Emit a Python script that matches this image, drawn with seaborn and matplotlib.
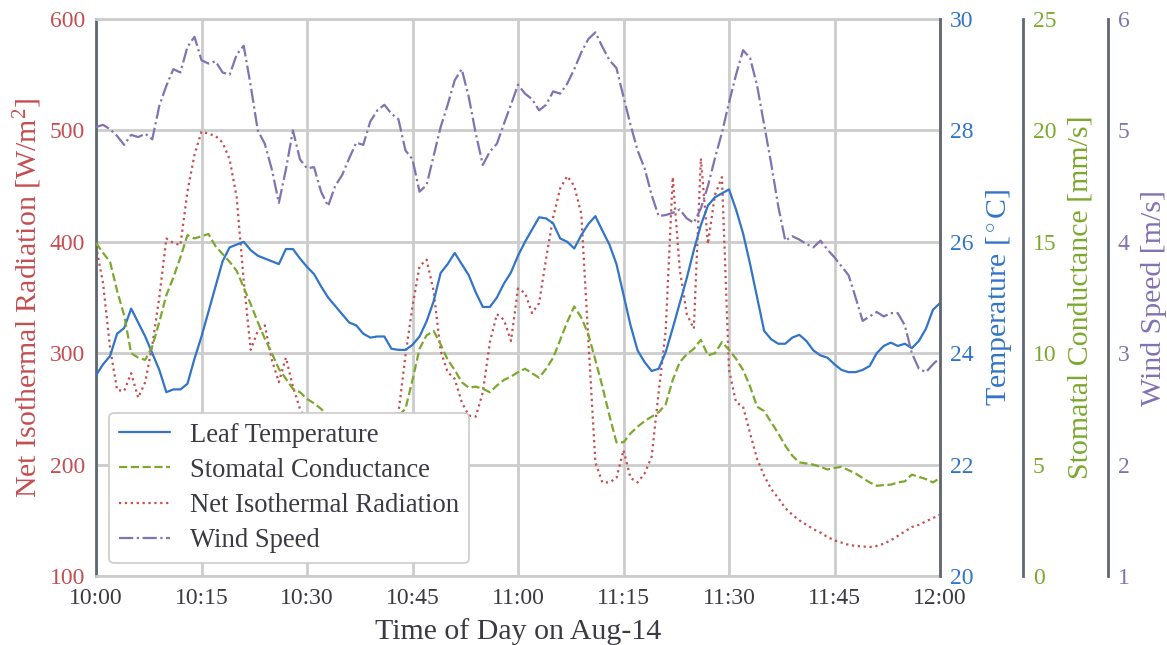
import numpy as np
import pandas as pd
import matplotlib
matplotlib.use("Agg")
import matplotlib.pyplot as plt
import matplotlib.dates as mdates
import seaborn as sns

# Minutes after 10:00 on Aug-14, one reading per minute
minutes = list(range(0, 121))

leaf_temperature = [  # degC
    23.6, 23.8, 23.95, 24.35, 24.45, 24.8, 24.55, 24.3, 24.0, 23.7,
    23.3, 23.35, 23.35, 23.45, 23.9, 24.3, 24.75, 25.2, 25.65, 25.9,
    25.95, 26.0, 25.85, 25.75, 25.7, 25.65, 25.6, 25.87, 25.87, 25.7,
    25.55, 25.42, 25.2, 25.0, 24.85, 24.7, 24.55, 24.5, 24.35, 24.28,
    24.3, 24.3, 24.08, 24.06, 24.06, 24.15, 24.3, 24.57, 24.93, 25.44,
    25.6, 25.8, 25.6, 25.4, 25.09, 24.83, 24.83, 25.0, 25.25, 25.45,
    25.75, 26.0, 26.22, 26.44, 26.42, 26.33, 26.06, 26.0, 25.88, 26.12,
    26.32, 26.46, 26.2, 25.95, 25.6, 25.05, 24.5, 24.05, 23.84, 23.68,
    23.72, 24.02, 24.45, 24.9, 25.35, 25.85, 26.3, 26.65, 26.8, 26.87,
    26.94, 26.58, 26.15, 25.6, 25.0, 24.4, 24.25, 24.17, 24.17, 24.28,
    24.33, 24.22, 24.05, 23.96, 23.92, 23.8, 23.7, 23.66, 23.66, 23.7,
    23.77, 24.0, 24.13, 24.19, 24.13, 24.17, 24.09, 24.22, 24.44, 24.78, 24.9,
]

stomatal_conductance = [  # mm/s
    14.95, 14.5, 14.1, 12.8, 11.7, 10.0, 9.8, 9.7, 10.3, 11.4,
    12.6, 13.4, 14.3, 15.3, 15.15, 15.25, 15.35, 14.8, 14.45, 14.1,
    13.7, 12.95, 12.2, 11.4, 10.65, 10.0, 9.3, 8.85, 8.4, 8.25,
    7.95, 7.75, 7.5, 7.2, 7.0, 6.8, 6.7, 6.6, 6.5, 6.5,
    6.6, 6.7, 6.9, 7.2, 7.5, 8.8, 10.2, 10.8, 11.0, 10.4,
    9.7, 9.25, 8.7, 8.45, 8.5, 8.4, 8.25, 8.55, 8.8, 8.95,
    9.15, 9.3, 9.1, 8.9, 9.3, 9.8, 10.6, 11.4, 12.1, 11.6,
    10.85, 9.7, 8.5, 7.2, 6.0, 6.0, 6.4, 6.7, 6.95, 7.15,
    7.35, 7.7, 8.8, 9.6, 9.95, 10.2, 10.6, 9.9, 10.0, 10.5,
    10.15, 9.75, 9.25, 8.5, 7.6, 7.4, 6.9, 6.4, 5.85, 5.4,
    5.1, 5.05, 5.0, 4.9, 4.78, 4.85, 4.9, 4.75, 4.6, 4.4,
    4.2, 4.05, 4.08, 4.1, 4.2, 4.25, 4.55, 4.45, 4.35, 4.2, 4.4,
]

net_radiation = [  # W/m2
    396, 363, 305, 267, 266, 282, 260, 274, 307, 350,
    403, 399, 397, 445, 478, 499, 497, 495, 489, 474,
    440, 365, 303, 320, 325, 294, 274, 296, 270, 250,
    238, 228, 220, 214, 210, 208, 207, 208, 211, 216,
    222, 228, 235, 246, 298, 342, 378, 384, 356, 302,
    283, 277, 256, 244, 243, 265, 310, 335, 330, 311,
    358, 354, 336, 345, 385, 422, 448, 459, 450, 425,
    312, 202, 184, 184, 188, 213, 188, 184, 192, 207,
    265, 320, 458, 375, 335, 322, 475, 398, 442, 458,
    285, 256, 252, 228, 205, 190, 178, 170, 161, 155,
    150, 146, 142, 139, 135, 132, 130, 128, 127, 126.5,
    126, 127, 129, 132, 136, 140, 144, 146, 149, 152, 155,
]

wind_speed = [  # m/s
    5.03, 5.05, 5.01, 4.95, 4.87, 4.96, 4.94, 4.97, 4.92, 5.22,
    5.4, 5.55, 5.52, 5.75, 5.84, 5.63, 5.6, 5.62, 5.52, 5.5,
    5.68, 5.76, 5.4, 5.0, 4.88, 4.65, 4.35, 4.65, 5.0, 4.74,
    4.66, 4.67, 4.45, 4.32, 4.5, 4.6, 4.75, 4.89, 4.87, 5.08,
    5.18, 5.23, 5.15, 5.1, 4.82, 4.74, 4.45, 4.51, 4.77, 5.03,
    5.23, 5.45, 5.55, 5.3, 4.97, 4.69, 4.81, 4.88, 5.06, 5.23,
    5.41, 5.33, 5.28, 5.18, 5.23, 5.35, 5.33, 5.42, 5.55, 5.7,
    5.82, 5.88, 5.75, 5.63, 5.56, 5.3, 5.05, 4.82, 4.66, 4.42,
    4.23, 4.24, 4.26, 4.29, 4.21, 4.17, 4.3, 4.5, 4.75, 4.98,
    5.25, 5.5, 5.72, 5.65, 5.4, 5.05, 4.7, 4.32, 4.01, 4.05,
    4.02, 3.98, 3.95, 4.01, 3.93, 3.86, 3.78, 3.7, 3.5, 3.29,
    3.33, 3.37, 3.33, 3.36, 3.36, 3.25, 3.0, 2.86, 2.83, 2.9, 2.96,
]

radiation_ticks = [100, 200, 300, 400, 500, 600]
temperature_ticks = [20, 22, 24, 26, 28, 30]
conductance_ticks = [0, 5, 10, 15, 20, 25]
wind_ticks = [1, 2, 3, 4, 5, 6]

C_TEMP = "#3274C8"
C_COND = "#7CA82E"
C_RAD = "#C44E52"
C_WIND = "#8172B2"
SPINE_DARK = "#5F6771"
GRID = "#CCCCCC"
TEXT = "#3A3A42"

times = pd.Timestamp("2021-08-14 10:00") + pd.to_timedelta(minutes, unit="min")
df = pd.DataFrame({
    "time": times,
    "temp": leaf_temperature,
    "cond": stomatal_conductance,
    "rad": net_radiation,
    "wind": wind_speed,
})

sns.set_theme(style="whitegrid")
plt.rcParams["font.family"] = ["Liberation Serif", "DejaVu Serif"]
plt.rcParams["mathtext.fontset"] = "custom"
plt.rcParams["mathtext.rm"] = "Liberation Serif"
plt.rcParams["mathtext.it"] = "Liberation Serif:italic"
plt.rcParams["text.color"] = TEXT

W, H = 1167, 645
fig, ax = plt.subplots(figsize=(W / 100, H / 100), dpi=100)
fig.subplots_adjust(left=96 / W, right=940 / W, bottom=69 / H, top=626 / H)

ax_t = ax.twinx()
ax_g = ax.twinx()
ax_w = ax.twinx()
ax_g.spines["right"].set_position(("axes", 1 + 83 / 844))
ax_w.spines["right"].set_position(("axes", 1 + 168 / 844))

lw = 1.6
sns.lineplot(data=df, x="time", y="temp", ax=ax_t, color=C_TEMP, lw=lw,
             linestyle="-", label="Leaf Temperature", legend=False)
sns.lineplot(data=df, x="time", y="cond", ax=ax_g, color=C_COND, lw=lw,
             linestyle="--", label="Stomatal Conductance", legend=False)
sns.lineplot(data=df, x="time", y="rad", ax=ax, color=C_RAD, lw=lw,
             linestyle=":", label="Net Isothermal Radiation", legend=False)
sns.lineplot(data=df, x="time", y="wind", ax=ax_w, color=C_WIND, lw=lw,
             linestyle="-.", label="Wind Speed", legend=False)

tick_fs = 17
label_fs = 21.5

# main axis: radiation + grid
ax.set_xlim(times[0], times[-1])
ax.xaxis.set_major_locator(mdates.MinuteLocator(byminute=[0, 15, 30, 45]))
ax.xaxis.set_major_formatter(mdates.DateFormatter("%H:%M"))
ax.set_ylim(100, 600)
ax.set_yticks(radiation_ticks)
ax.grid(True, color=GRID, lw=2)
ax.tick_params(axis="x", length=0, labelsize=tick_fs, labelcolor=TEXT, pad=9)
ax.tick_params(axis="y", length=0, labelsize=tick_fs, labelcolor=C_RAD, pad=8)
ax.set_xlabel("Time of Day on Aug-14", fontsize=label_fs, color=TEXT, labelpad=6)
ax.set_ylabel("Net Isothermal Radiation [W/m$^2$]", fontsize=label_fs,
              color=C_RAD, labelpad=4)
for s in ("top", "bottom", "right"):
    ax.spines[s].set_color(GRID)
    ax.spines[s].set_linewidth(2)
ax.spines["left"].set_color(SPINE_DARK)
ax.spines["left"].set_linewidth(2)

twins = [
    (ax_t, (20, 30), temperature_ticks, C_TEMP, "Temperature [$^\\circ$C]"),
    (ax_g, (0, 25), conductance_ticks, C_COND, "Stomatal Conductance [mm/s]"),
    (ax_w, (1, 6), wind_ticks, C_WIND, "Wind Speed [m/s]"),
]
for a, lim, ticks, col, lab in twins:
    a.set_ylim(*lim)
    a.set_yticks(ticks)
    a.grid(False)
    a.patch.set_visible(False)
    for s in ("top", "bottom", "left"):
        a.spines[s].set_visible(False)
    a.spines["right"].set_color(SPINE_DARK)
    a.spines["right"].set_linewidth(2)
    a.tick_params(axis="y", length=0, labelsize=tick_fs, labelcolor=col, pad=7)
    a.set_ylabel(lab, fontsize=label_fs, color=col, labelpad=8)
    a.set_xlabel("")

handles = []
labels = []
for a in (ax_t, ax_g, ax, ax_w):
    h, l = a.get_legend_handles_labels()
    handles += h
    labels += l
leg = ax_w.legend(handles, labels, loc="lower left",
                  bbox_to_anchor=(0.0154, 0.023), borderaxespad=0,
                  fontsize=19.2, frameon=True, framealpha=1.0, edgecolor=GRID,
                  handlelength=1.9, borderpad=0.38, labelspacing=0.38,
                  handletextpad=0.75)
leg.get_frame().set_linewidth(1.2)
for t in leg.get_texts():
    t.set_color(TEXT)

fig.savefig("out.png", dpi=100)
